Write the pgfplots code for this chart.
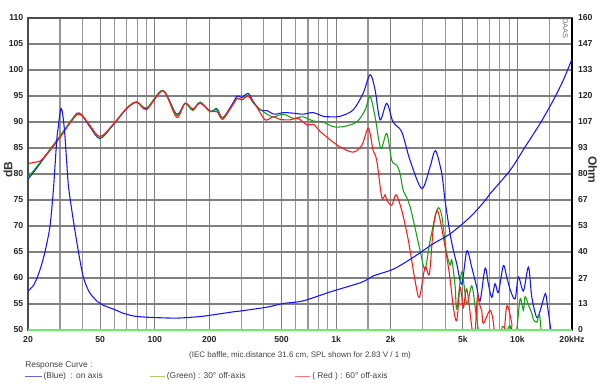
\documentclass[border=0pt]{standalone}
\usepackage{pgfplots}
\pgfplotsset{compat=1.18}
\usepackage{fontspec}
\setmainfont{Liberation Sans}
\definecolor{cblue}{RGB}{20,20,255}
\definecolor{cgreen}{RGB}{20,160,20}
\definecolor{cred}{RGB}{255,25,25}
\definecolor{lgreen}{RGB}{110,235,110}
\definecolor{gridc}{RGB}{128,128,128}
\definecolor{gridl}{RGB}{150,150,150}
\definecolor{legblue}{RGB}{100,100,210}
\definecolor{leggreen}{RGB}{160,210,100}
\definecolor{legred}{RGB}{255,120,120}
\begin{document}
\begin{tikzpicture}
\path[use as bounding box] (-21pt,-40.5pt) rectangle (429pt,247.5pt);
\begin{axis}[
 at={(0pt,0pt)}, anchor=south west,
 scale only axis, width=408pt, height=234pt,
 xmode=log, xmin=20, xmax=20000, ymin=50, ymax=110,
 xtick={20,50,100,200,500,1000,2000,5000,10000,20000},
 xticklabels={20,50,100,200,500,1k,2k,5k,10k,20kHz},
 minor xtick={30,40,60,70,80,90,150,300,400,600,700,800,900,1500,3000,4000,6000,7000,8000,9000,15000},
 ytick={50,55,...,110},
 grid=both,
 major grid style={gridc, line width=0.85pt},
 minor grid style={gridl, line width=0.85pt},
 tick style={draw=none},
 axis line style={draw=black!70, line width=0.9pt},
 ticklabel style={font=\fontsize{6.5}{7}\selectfont\bfseries, text=black!85},
 /pgf/number format/assume math mode=true,
 xticklabel style={yshift=-1pt},
]
\addplot[cblue, line width=0.8pt, smooth, tension=0.5] coordinates {
(20,79.0)(21.3,80.2)(23.3,82.0)(26.4,84.6)(30.0,87.2)(34.1,89.9)(37.3,91.7)(39.7,91.3)(44.0,89.0)(49.9,86.8)(58.9,89.4)(70.1,92.6)(79.6,93.8)(90.3,92.6)(111,96.0)(132,91.5)(147,93.6)(162,92.4)(178,93.8)(202,92.1)(220,92.4)(237,90.8)(266,93.3)(285,95.0)(302,94.7)(328,95.5)(350,93.9)(381,92.3)(415,92.2)(455,91.5)(512,91.8)(581,91.7)(657,91.5)(747,91.8)(848,91.1)(926,91.0)(1052,91.1)(1240,92.3)(1409,95.5)(1540,99.1)(1641,96.2)(1748,90.4)(1903,93.6)(2062,90.0)(2302,88.1)(2559,82.6)(2969,77.2)(3300,81.4)(3530,84.5)(3826,80.1)(3990,74.9)(4253,68.5)(4436,65.3)(4630,62.7)(4934,58.8)(5258,65.2)(5604,62.0)(5970,58.2)(6227,55.6)(6634,61.9)(6918,58.8)(7222,56.3)(7532,58.9)(7852,57.2)(8366,62.4)(8738,60.1)(9192,57.4)(9712,56.0)(10126,60.2)(10790,57.5)(11502,62.1)(12006,56.3)(12790,52.4)(13506,54.3)(14266,57.0)(14690,54.3)(15282,50.0)(15500,47)
};
\addplot[cgreen, line width=0.8pt, smooth, tension=0.5] coordinates {
(20,79.3)(21.3,80.5)(23.3,82.2)(26.4,84.7)(30.0,87.3)(34.1,90.0)(37.3,91.6)(39.7,91.4)(44.0,89.2)(49.9,86.9)(58.9,89.5)(70.1,92.7)(79.6,93.9)(90.3,92.7)(111,96.1)(132,91.3)(147,93.6)(162,92.2)(178,93.8)(202,92.0)(220,92.6)(237,90.8)(266,93.0)(285,94.6)(302,94.2)(328,95.2)(350,93.6)(396,92.0)(449,91.0)(512,91.5)(581,90.7)(657,91.0)(747,90.2)(848,90.0)(962,89.1)(1093,89.1)(1300,90.0)(1445,92.3)(1540,94.9)(1641,91.0)(1763,84.9)(1903,87.8)(2028,82.6)(2162,81.7)(2254,80.1)(2342,76.9)(2495,74.9)(2616,72.4)(2906,65.3)(3096,61.7)(3300,67.2)(3620,73.3)(3826,72.0)(4043,65.3)(4253,62.5)(4346,63.5)(4533,58.5)(4630,54.0)(4934,61.1)(5258,55.0)(5604,58.5)(5916,53.0)(6093,50.0)(6300,47)(8000,47)(8202,50.2)(8337,50.7)(8700,49.9)(9115,50.8)(9400,48)(9900,50)(10350,56.0)(10790,53.8)(11026,56.4)(11502,54.8)(12006,53.2)(12252,52.0)(12790,51.5)(13222,53.0)(13506,50.0)(13800,47)(20000,47)
};
\addplot[cred, line width=0.8pt, smooth, tension=0.5] coordinates {
(20,82.0)(21.3,82.2)(23.3,82.5)(24.8,83.4)(26.4,84.5)(30.0,87.0)(34.1,89.8)(37.3,91.4)(39.7,91.2)(44.0,89.3)(49.9,87.2)(58.9,89.5)(70.1,92.6)(79.6,93.8)(90.3,92.4)(111,96.0)(132,90.9)(147,93.6)(162,92.5)(178,93.6)(202,92.0)(220,92.0)(237,90.5)(266,93.0)(285,94.5)(302,94.3)(328,94.9)(362,93.1)(406,90.4)(449,91.0)(491,90.5)(557,90.4)(617,90.7)(692,89.4)(747,89.6)(816,88.2)(926,86.6)(1052,85.2)(1240,84.2)(1386,85.5)(1507,88.8)(1600,84.6)(1676,82.6)(1786,75.5)(1863,76.0)(1903,75.0)(2028,74.0)(2142,76.0)(2302,73.0)(2504,67.2)(2726,59.5)(2880,56.3)(3096,62.1)(3270,60.8)(3441,69.8)(3620,73.0)(3876,68.5)(4215,60.8)(4436,54.3)(4630,51.8)(4830,58.2)(5035,54.3)(5258,57.9)(5604,50.5)(5800,48)(6016,56.4)(6170,55.0)(6360,53.6)(6492,51.3)(7070,53.8)(7373,51.4)(7600,47)(8300,47)(8738,54.6)(9311,51.2)(9600,47)(20000,47)
};
\end{axis}
\begin{axis}[
 at={(0pt,0pt)}, anchor=south west,
 scale only axis, width=408pt, height=234pt,
 xmode=log, xmin=20, xmax=20000, ymin=0, ymax=160,
 axis y line*=right, axis x line=none,
 ytick={0,13.333,26.667,40,53.333,66.667,80,93.333,106.667,120,133.333,146.667,160},
 yticklabels={0,13,27,40,53,67,80,93,107,120,133,147,160},
 tick style={draw=none},
 y axis line style={draw=black, line width=1.3pt},
 ticklabel style={font=\fontsize{6.5}{7}\selectfont\bfseries, text=black!85},
 yticklabel style={xshift=1pt},
]
\addplot[cblue, line width=0.8pt, smooth, tension=0.45] coordinates {
(20,20.0)(21.3,22.5)(22.3,26.1)(23.5,32)(24.8,40.0)(26.4,52.8)(27.6,71.7)(28.8,97.3)(29.4,104.3)(29.9,110)(30.4,113.6)(30.9,112)(31.5,106)(32.0,99)(32.7,86)(33.4,74)(34.8,62)(36.3,51)(38.3,38)(40.4,27)(43.5,19.5)(47.9,14.9)(52,12.7)(59.1,10.7)(67,8.6)(76.2,7.2)(86,6.7)(98.2,6.4)(132,6.1)(178,6.9)(229,8.3)(270,9.3)(300,9.8)(415,11.7)(512,13.6)(657,14.9)(926,19.5)(1386,24.5)(1600,27.7)(2069,31.2)(2669,37.3)(3441,44.3)(4253,49.3)(5484,57.9)(6634,66.4)(7070,69.9)(9115,81.9)(11026,93.9)(13340,105.9)(15790,117.9)(17936,128.3)(19950,138.7)
};
\end{axis}
\draw[lgreen, line width=1.3pt] (0pt,0pt) -- (408pt,0pt);
\node[rotate=90, font=\fontsize{9}{10}\selectfont\bfseries, text=black!80] at (-15pt,120pt) {dB};
\node[rotate=-90, font=\fontsize{9}{10}\selectfont\bfseries, text=black!80] at (423.5pt,120pt) {Ohm};
\node[rotate=-90, font=\fontsize{5.5}{6}\selectfont, text=black!55] at (403pt,226pt) {DAAS};
\node[font=\fontsize{6}{7}\selectfont, text=black!75] at (204pt,-18.75pt) {(IEC baffle, mic.distance 31.6 cm, SPL shown for 2.83 V / 1 m)};
\node[anchor=west, font=\fontsize{6.3}{7}\selectfont, text=black!75, inner sep=0pt] at (-2.25pt,-26.5pt) {Response Curve :};
\draw[legblue, line width=0.7pt] (-2.25pt,-34.5pt) -- (10.5pt,-34.5pt);
\node[anchor=west, font=\fontsize{6.3}{7}\selectfont, text=black!75, inner sep=0pt] at (11.5pt,-34.5pt) {(Blue)\ \ : on axis};
\draw[leggreen, line width=0.7pt] (91.5pt,-34.5pt) -- (102.75pt,-34.5pt);
\node[anchor=west, font=\fontsize{6.3}{7}\selectfont, text=black!75, inner sep=0pt] at (104pt,-34.5pt) {(Green) : 30° off-axis};
\draw[legred, line width=0.7pt] (200.25pt,-34.5pt) -- (211.5pt,-34.5pt);
\node[anchor=west, font=\fontsize{6.3}{7}\selectfont, text=black!75, inner sep=0pt] at (213pt,-34.5pt) {( Red ) : 60° off-axis};
\end{tikzpicture}
\end{document}
